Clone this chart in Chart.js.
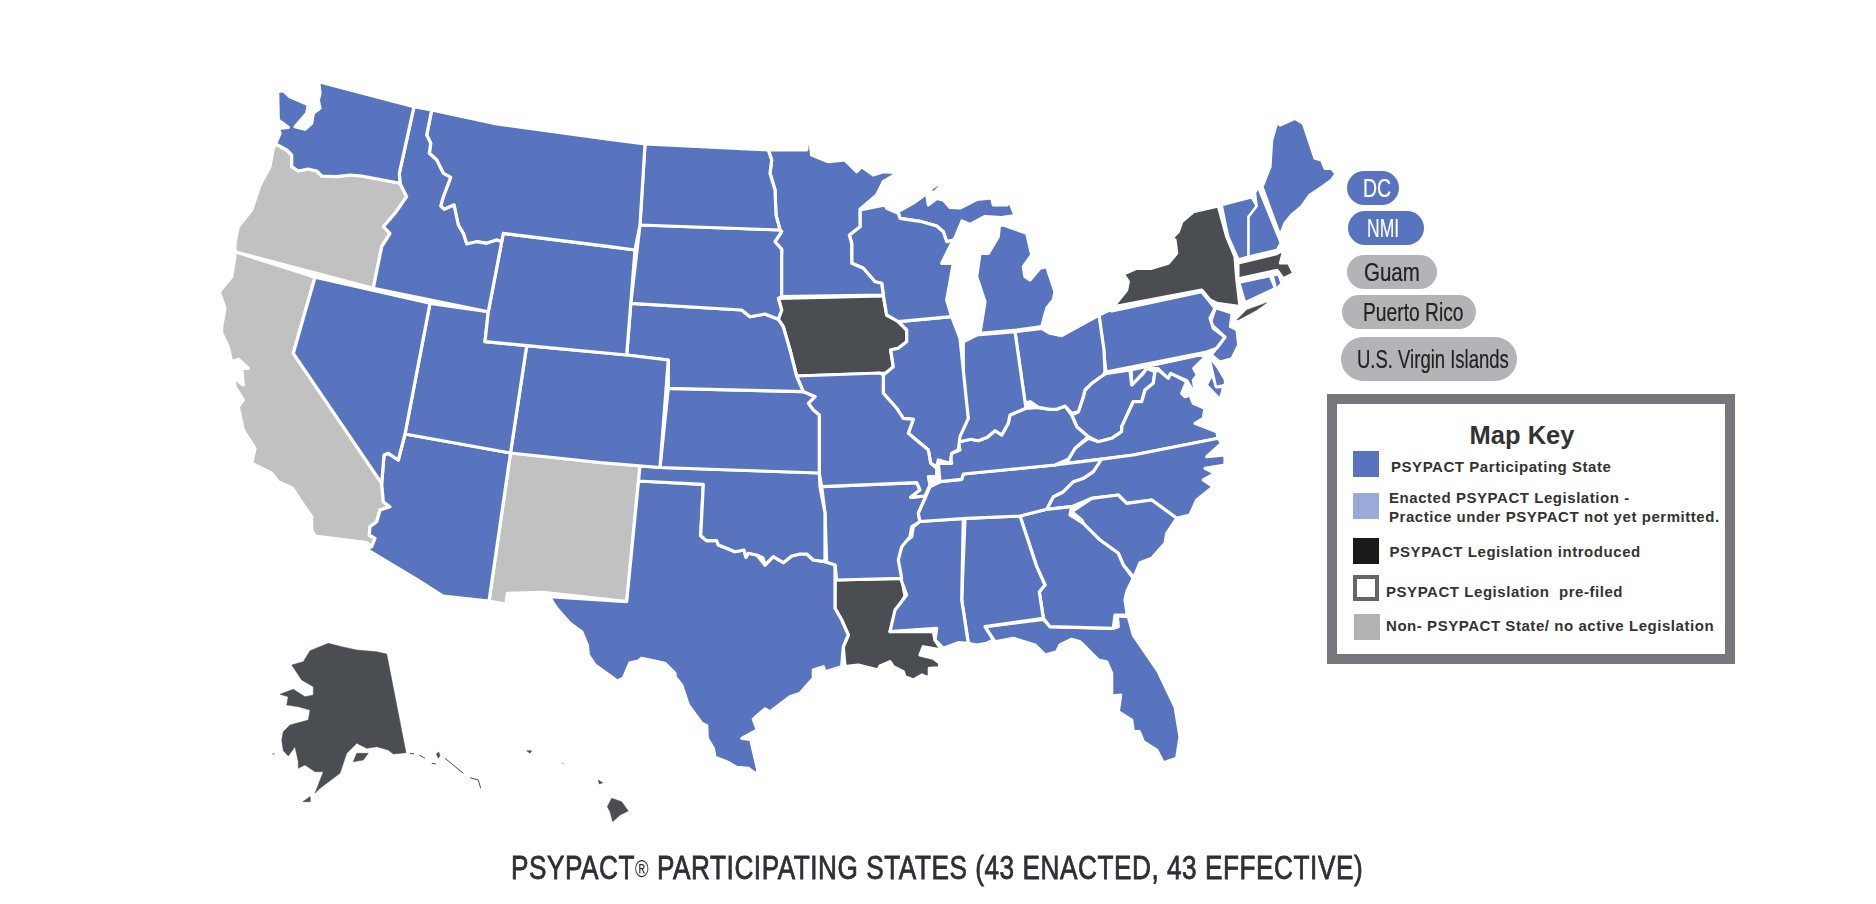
<!DOCTYPE html>
<html>
<head>
<meta charset="utf-8">
<title>PSYPACT Participating States</title>
<script src="https://cdn.jsdelivr.net/npm/chart.js@4/dist/chart.umd.min.js"></script>
<style>
  html, body { margin: 0; padding: 0; background: #fff; overflow: hidden; }
  #wrap { position: relative; width: 1876px; height: 904px; }
  #mapa { position: absolute; left: 0; top: 0; }
  .pill { position: absolute; box-sizing: border-box; font-family: "Liberation Sans", sans-serif; font-size: 25px; white-space: nowrap; }
  .pill span { position: absolute; top: 50%; transform-origin: left center; -webkit-text-stroke: 0.2px currentColor; }
  #key { position: absolute; left: 1327px; top: 394px; width: 408px; height: 270px; box-sizing: border-box; border: 10px solid #76767c; background: #fff; }
  .sw { position: absolute; box-sizing: border-box; width: 26px; height: 26px; }
  .kt { position: absolute; font: bold 15px "Liberation Sans", Arial, sans-serif; color: #333; letter-spacing: 0.55px; white-space: nowrap; transform: translateY(-50%); }
  #keyTitle { position: absolute; text-align: center; top: 421px; font: bold 25.5px "Liberation Sans", Arial, sans-serif; color: #333; }
  #titulo { position: absolute; left: 511px; top: 848px; font-family: "Liberation Sans", sans-serif; font-size: 34px; color: #2d2f36; white-space: nowrap; letter-spacing: 0.7px; transform: scaleX(0.77); transform-origin: left top; -webkit-text-stroke: 0.8px #2d2f36; }
  #titulo sup { font-size: 24px; vertical-align: 2px; line-height: 0; -webkit-text-stroke: 0; }
</style>
</head>
<body>
<div id="wrap">
  <canvas id="mapa" width="1876" height="904"></canvas>
  <div id="titulo">PSYPACT<sup>®</sup> PARTICIPATING STATES (43 ENACTED, 43 EFFECTIVE)</div>
</div>
<script>
// contornos (x, y en la escala del mapa)
const WA = [[318.7,81.7],[414,106.7],[399.3,173.3],[400,183.3],[361.7,176],[350,175],[336.7,176.7],[321.7,176],[316.7,171],[308.3,169],[298.3,171],[291.7,166.7],[291.7,155],[286.7,150],[275.7,144],[280,133.3],[278.3,128.3],[288.3,127.3],[278.3,120],[277.7,91.7],[283.3,90.7],[290,96.7],[305,103.3],[308.3,105],[306.7,113.3],[295,126.7],[305,129.3],[311.7,123.3],[313.3,113.3],[320,108.3],[318.3,100],[320,93.3]];
const OR = [[275.7,144],[286.7,150],[291.7,155],[291.7,166.7],[298.3,171],[308.3,169],[316.7,171],[321.7,176],[336.7,176.7],[350,175],[361.7,176],[400,183.3],[406.7,196.7],[395,213.3],[383.3,226.7],[390,233.3],[381.7,246.7],[373.3,288.3],[235,251.7],[235,243.3],[238.3,226.7],[251.7,210],[260,185],[270,166.7],[273.3,148.3]];
const ID = [[414,106.7],[431.7,110],[426.7,135],[430.7,143.3],[429.3,153.3],[436.7,160],[443.3,173.3],[450.7,177.3],[443.3,196.7],[440.7,206],[444.3,209.3],[454,205],[458.3,225],[463.3,233.3],[466.7,244],[476.7,241.7],[486.7,243.3],[496.7,240],[501.7,241.7],[488.3,311.7],[373.3,288.3],[381.7,246.7],[390,233.3],[383.3,226.7],[395,213.3],[406.7,196.7],[400,183.3],[399.3,173.3]];
const MT = [[431.7,110],[493.3,123.3],[610,139.3],[645,144],[640,225],[635,250],[610,246.7],[503.3,233.3],[501.7,241.7],[496.7,240],[486.7,243.3],[476.7,241.7],[466.7,244],[463.3,233.3],[458.3,225],[454,205],[444.3,209.3],[440.7,206],[443.3,196.7],[450.7,177.3],[443.3,173.3],[436.7,160],[429.3,153.3],[430.7,143.3],[426.7,135]];
const WY = [[503.3,233.3],[635,250],[626.7,355],[485,341.7],[488.3,311.7]];
const NV = [[315,277.3],[430,303.3],[405,434],[398.3,460],[388.3,453.3],[384,455],[381.7,483.3],[293.3,353.3]];
const CA = [[235,251.7],[315,277.3],[293.3,353.3],[381.7,483.3],[383.3,501.7],[390,506.7],[380,510],[376.7,521.7],[370,526.7],[369.3,535],[375,538.3],[371.7,546.7],[366.7,542.7],[315,536],[311.7,530],[311.7,516.7],[300,500],[292.7,488.3],[278.3,481.7],[271.7,473.3],[251.7,463.3],[255,448.3],[243.3,430],[238.3,406.7],[243.3,400],[235,386.7],[234,378],[243.3,385],[241.7,368.3],[248.3,368.3],[238.3,359.3],[231.7,361.7],[228.3,346.7],[221.7,333.3],[221.7,326.7],[225,308.3],[219.3,291.7],[231.7,276.7],[235,256.7]];
const UT = [[430,303.3],[488.3,311.7],[485,341.7],[526.7,345.6],[510.5,453],[405,434]];
const CO = [[526.7,345.6],[626.7,355],[668.3,360],[660,467.5],[600,462.5],[510.5,453]];
const NM = [[510.5,453],[600,462.5],[640,466],[626.7,601.7],[543.3,592.3],[507.3,593.3],[506,604],[489,601]];
const AZ = [[405,434],[510.5,453],[489,601],[443,596],[416.7,579.3],[366.7,549.3],[371.7,546.7],[375,538.3],[369.3,535],[370,526.7],[376.7,521.7],[380,510],[390,506.7],[383.3,501.7],[381.7,483.3],[384,455],[388.3,453.3],[398.3,460]];
const ND = [[645,144],[768.3,150],[771.7,160],[770,173.3],[775,190],[776,215],[780,230],[640,225]];
const SD = [[640,225],[780,230],[781.7,231.7],[775,241.7],[781.7,249.3],[781.7,296.7],[778.3,298.3],[781.7,310],[778.3,319.3],[765,314],[750,316.7],[741.7,310],[630.8,303.3]];
const NE = [[630.8,303.3],[741.7,310],[750,316.7],[765,314],[778.3,319.3],[783.3,326.7],[790,350],[796.7,376.7],[803.3,391.7],[668.3,388.3],[668.3,360],[626.7,355]];
const KS = [[668.3,388.3],[803.3,391.7],[815,396.7],[808.3,403.3],[813.3,410],[819.3,415],[819.3,473],[660,467.5]];
const OK = [[640,466],[660,467.5],[819.3,473],[820,486.7],[825,513.3],[825,561.7],[813.3,560],[806.7,554],[800,554],[791.7,556],[783.3,562.7],[773.3,556.7],[765,565],[763,558],[756.7,555],[748.3,553.3],[746,557.3],[744,550],[735,551.7],[726.7,548.3],[718.3,545],[716.7,540.7],[706.7,540.7],[700.7,535.7],[703.3,484.3],[638.5,481]];
const TX = [[638.5,481],[703.3,484.3],[700.7,535.7],[706.7,540.7],[716.7,540.7],[718.3,545],[726.7,548.3],[735,551.7],[744,550],[746,557.3],[748.3,553.3],[756.7,555],[765,565],[773.3,556.7],[783.3,562.7],[791.7,556],[800,554],[806.7,554],[813.3,560],[825,561.7],[835,565],[835,608.3],[841.7,620],[848.3,635],[843.3,646.7],[841.7,666.7],[825,671.7],[823.3,666.7],[813.3,670],[813.3,678.3],[800,693.3],[790,696.7],[770,711.7],[765,709],[756.7,716],[753.3,719.3],[757.3,730],[741.7,738.3],[750.7,739.3],[758.3,772.3],[755,773.3],[748.3,768.3],[736.7,767.3],[726.7,761.7],[715,757.3],[713.3,748.3],[707.3,738.3],[706.7,725.7],[701.7,723.3],[688.3,705],[681.7,685],[675,676.7],[675,673.3],[665,663.3],[641.7,658.3],[638.3,661],[630,662.7],[623.3,678.3],[617.3,681],[606.7,673.3],[595,665],[588.3,655],[587.3,645],[581.7,631.7],[570,623.3],[556.7,608.3],[549.3,596.7],[626.7,601.7]];
const MN = [[768.3,150],[806.7,150],[807.3,141.7],[810,141.7],[811.7,155],[828.3,161.7],[845,160],[856.7,171.7],[861.7,166.7],[873.3,175],[883.3,171.7],[898.3,172.7],[883.3,181.7],[876.7,195],[860,209.3],[860,226.7],[849.3,235],[851.7,243.3],[851.7,263.3],[863.3,268.3],[875,281.7],[881.7,283.3],[883.3,295],[780,296.7],[781.7,249.3],[775,241.7],[781.7,231.7],[780,230],[776,215],[775,190],[770,173.3],[771.7,160]];
const IA = [[778.3,298.3],[883.3,296],[886.7,315],[896.7,320],[906.7,330],[906.7,341.7],[898.3,348.3],[890.7,350],[893.3,366.7],[886.7,373.3],[880,373.3],[796.7,376],[790,350],[783.3,326.7],[778.3,319.3],[781.7,310]];
const MO = [[796.7,376],[880,373],[883.3,375],[883.3,393.3],[896.7,408.3],[903.3,418.3],[913.3,419.3],[908.3,433.3],[928.3,450],[930.7,463.3],[936.7,468.3],[936.7,476.7],[928.3,476.7],[930,485],[925,496],[910.7,497.3],[920,490],[916.7,482.7],[821.7,486.7],[819.3,473],[819.3,415],[813.3,410],[808.3,403.3],[815,396.7],[803.3,391.7]];
const WI = [[860,210],[885,205],[886.7,208.3],[898.3,213.3],[900,218.3],[921.7,221.7],[936.7,226],[943.3,231.7],[946.7,241.7],[953.3,240],[941.7,263.3],[953.3,263.3],[946.7,300],[951.7,316.7],[898.3,321.7],[886.7,315],[883.3,295],[881.7,283.3],[875,281.7],[863.3,268.3],[851.7,263.3],[851.7,243.3],[849.3,235],[860,226.7]];
const MI_NORTE = [[898,211.5],[915,202],[926.7,193.5],[928.3,205],[936.7,198.5],[943.3,200],[950,207.5],[960,208],[976.7,199.5],[991.7,198],[993.3,205],[1006.7,205],[1010,202.5],[1015,215.5],[1001.7,217.5],[985,216.5],[970,224.5],[962,221],[954,240],[946.7,241.7],[943.3,231.7],[936.7,226],[921.7,221.7],[900,218.3]];
const ISLA_ROYALE = [[932,190],[938,186],[934,190.5]];
const MI_SUR = [[999.3,226],[1003.3,225],[1026.7,233.3],[1031.7,255],[1023.3,266.7],[1025,276.7],[1030,280],[1040,268.3],[1046.7,266.7],[1055,291.7],[1053.3,300],[1046.7,308.3],[1041.7,326.7],[1016.7,330],[980,333.3],[985,301.7],[976.7,276.7],[980,253.3],[988.3,253.3],[998.3,236.7]];
const IL = [[898.3,321.7],[951.7,316.7],[960,338.3],[963.3,370],[966.7,403.3],[968.3,418.3],[960,436.7],[958.3,450],[951.7,453.3],[950,463.3],[938.3,460],[936.7,466.7],[930.7,463.3],[928.3,450],[908.3,433.3],[913.3,419.3],[903.3,418.3],[896.7,408.3],[883.3,393.3],[883.3,375],[893.3,366.7],[890.7,350],[898.3,348.3],[906.7,341.7],[906.7,330],[896.7,320]];
const IN = [[963.3,341.7],[976.7,335],[1015,331.7],[1025,401.7],[1026,408.3],[1010,415],[1008.3,423.3],[1001.7,435],[995,430.7],[987.3,437.3],[978.3,440.7],[970.7,439.3],[960,441.7],[958.3,436.7],[968.3,418.3],[963.3,406.7]];
const OH = [[1015,331.7],[1041.7,328.3],[1050,333.3],[1061.7,335.7],[1099,315],[1104,350],[1105,372],[1103.3,375],[1091.7,383.3],[1085,390],[1083.3,396.7],[1078.3,411.7],[1071.7,413.3],[1065,406],[1056.7,409.3],[1050,409.3],[1038.3,407.3],[1030,401.7],[1025,403.3]];
const KY = [[1026,408.3],[1038.3,407.3],[1050,409.3],[1056.7,409.3],[1065,406],[1071.7,415],[1076.7,426.7],[1088.3,436.7],[1075,448.3],[1068.3,459.3],[1055,465],[963.3,474],[961.7,479.3],[940,481.7],[938.3,463.3],[951.7,463.3],[950,454],[960,450],[958.3,441.7],[970.7,439.3],[978.3,440.7],[987.3,437.3],[995,430.7],[1001.7,435],[1008.3,423.3],[1010,415]];
const TN = [[940,481.7],[961.7,479.3],[963.3,474],[1055,465],[1100,459.3],[1100,461.7],[1093.3,471.7],[1083.3,478.3],[1073.3,481.7],[1063.3,491.7],[1053.3,496.7],[1046.7,509.3],[1020,516],[966.7,518.3],[920,521.5],[918.3,513.3],[925,498.3],[930,486.7]];
const AR = [[821.7,486.7],[916.7,482.7],[920,490],[910.7,497.3],[925,496],[925,498.3],[918.3,513.3],[920,521.5],[911.7,526.7],[910,536.7],[901.7,546.7],[898.3,560],[901.7,578.3],[836.7,580],[835,565],[826.7,562.7],[825,513.3]];
const LA = [[835,580],[901.7,578.3],[905,596],[896.7,610],[890,631.7],[933.3,631.7],[935,640],[941.7,650],[923.3,646.7],[920,655],[933.3,658.3],[940,663.3],[938.3,670],[952.7,678.3],[946.7,678.3],[936,668],[929.3,668.3],[929.3,678.3],[921.7,675],[913.3,680],[905,676.7],[903.3,671.7],[893.3,666.7],[890,661.7],[880,666],[878.3,670],[858.3,665],[845,666.7],[843.3,646.7],[848.3,635],[841.7,620],[835,608.3]];
const MS = [[920,521.5],[963.3,518.3],[961.7,600],[968.3,643.3],[958.3,642.7],[943.3,648.3],[935,640],[936.7,628.3],[890,631.7],[895,610],[906.7,595],[900,576.7],[896.7,560],[903.3,543.3],[911.7,536.7],[913.3,526.7]];
const AL = [[965,518.3],[1020,516],[1036.7,566.7],[1045,585],[1039.3,591.7],[1043.3,618.3],[985,626.7],[993.3,640],[986.7,643.3],[976.7,645],[968.3,643.3],[961.7,600]];
const GA = [[1020,516],[1046.7,509.3],[1071.7,506.7],[1070,515],[1083.3,523.3],[1100,540],[1118.3,553.3],[1123.3,565],[1133.3,578.3],[1126.7,591.7],[1125,600],[1127.3,615],[1115,615],[1113.3,628.3],[1050,626.7],[1043.3,618.3],[1039.3,591.7],[1045,585],[1036.7,566.7]];
const FL = [[985,626.7],[1043.3,619.3],[1050,626.7],[1113.3,628.3],[1118.3,626.7],[1117.3,616],[1128.3,616.7],[1133.3,635],[1158.3,671.7],[1175,706.7],[1180,736.7],[1176.7,758.3],[1163.3,762.7],[1156.7,750],[1143.3,741.7],[1139.3,731.7],[1133.3,731.7],[1131.7,720],[1118.3,711.7],[1120.7,695],[1111.7,696],[1111.7,673.3],[1106.7,661.7],[1098.3,660],[1080,641.7],[1071.7,639.3],[1060,645],[1056.7,651.7],[1045,655],[1035,645],[1013.3,638.3],[995,641.7],[988.3,631.7]];
const SC = [[1071.7,511.7],[1091.7,498.3],[1118.3,495],[1126.7,503.3],[1151.7,500],[1176.7,518.3],[1166.7,533.3],[1165,543.3],[1151.7,558.3],[1140,562.7],[1134,577.3],[1123.3,565],[1118.3,553.3],[1100,540],[1086.7,530],[1081.7,520]];
const NC = [[1100,459.3],[1133.3,455],[1218.3,438.3],[1221.7,443.3],[1206.7,456.7],[1225,455],[1225,465],[1205,468.3],[1215,473.3],[1203.3,480],[1213.3,486.7],[1196.7,500],[1190,515],[1176.7,518.3],[1151.7,500],[1126.7,503.3],[1118.3,495],[1091.7,498.3],[1071.7,506.7],[1046.7,509.3],[1053.3,496.7],[1063.3,491.7],[1073.3,481.7],[1083.3,478.3],[1093.3,471.7]];
const VA = [[1066,463.4],[1075,448.3],[1088.3,438.3],[1098.3,441.7],[1111.7,438.3],[1121.7,431.7],[1121.7,426.7],[1133.3,401.7],[1141.7,401.7],[1145,390],[1153.3,383.3],[1155,371.7],[1158.3,370],[1168.3,378.3],[1170.7,373.3],[1186.7,381.7],[1181.7,393.3],[1185,396.7],[1190,395],[1193.3,403.3],[1205,408.3],[1203.3,418.3],[1195,423.3],[1216.7,431.7],[1218.3,438.3],[1133.3,455],[1100,459.3]];
const WV = [[1106.7,373.3],[1130,370],[1131.7,385],[1143.3,373.3],[1146.7,368.3],[1155,371.7],[1153.3,383.3],[1145,390],[1141.7,401.7],[1133.3,401.7],[1121.7,426.7],[1121.7,431.7],[1111.7,438.3],[1098.3,441.7],[1088.3,436.7],[1076.7,426.7],[1071.7,415],[1078.3,411.7],[1083.3,396.7],[1085,390],[1091.7,383.3],[1103.3,375]];
const PA = [[1099,315],[1111.7,309],[1111.7,311],[1201.7,291.7],[1210,301.7],[1215,308.3],[1210,318.3],[1213.3,328.3],[1225,337.3],[1216.7,348.3],[1206.7,352],[1106,372]];
const NY = [[1113.3,306.7],[1126.7,290],[1128.3,281.7],[1123.3,274],[1136.7,268.3],[1151.7,268.3],[1168.3,263.3],[1176.7,253.3],[1175,240],[1171.7,238.3],[1178.3,231.7],[1181.7,221.7],[1193.3,211.7],[1218.3,206],[1226.7,236.7],[1235,256.7],[1236.7,278.3],[1240,306.7],[1216.7,303.3],[1210,300],[1201.7,290]];
const LONG_ISLAND = [[1236.7,320],[1246.7,310],[1266.7,302.7],[1256.7,310],[1239,319.5]];
const VT = [[1221.7,205],[1251.7,197.3],[1256.7,206],[1248.3,216.7],[1248.3,256.7],[1238.3,259.3],[1228.3,236.7],[1225,221.7]];
const NH = [[1258,187],[1278.3,236.7],[1280.7,243.3],[1276.7,250],[1248.3,256.7],[1248.3,216.7],[1256.7,206],[1255,193]];
const ME = [[1262,187],[1270,166.7],[1271.7,140],[1277.3,120.7],[1280,125],[1295,118.3],[1303.3,123.3],[1315,158.3],[1321.7,160],[1325,168.3],[1331.7,168.3],[1336,174],[1331.7,180],[1321.7,187.3],[1310,195],[1301.7,206.7],[1291.7,215],[1285,223.3],[1280,236]];
const MA = [[1238.3,263.3],[1276.7,254],[1283.3,250.7],[1280,263.3],[1288.3,263.3],[1293.3,273.3],[1283.3,278.3],[1277.3,270],[1238.3,278.3]];
const CT = [[1239.3,282.7],[1270,276],[1275,288.3],[1245,302.3]];
const RI = [[1272.7,275.7],[1278.3,274.3],[1281.7,283.3],[1276,289]];
const NJ = [[1216.7,308.3],[1231.7,313.3],[1230,326.7],[1236.7,330],[1238.3,345],[1231.7,358.3],[1220,361.7],[1211.7,355],[1225,336.7],[1210.7,323.3],[1215,310]];
const DE = [[1209,356],[1218,368],[1225,380],[1225,385],[1216,387]];
const MD_OESTE = [[1131.7,370],[1203.3,354.5],[1203.3,358.3],[1193.3,368.3],[1197,375],[1193,380],[1195,393.3],[1186.7,380],[1170.7,373.3],[1168.3,378.3],[1158.3,368.3],[1146.7,368.3],[1131.7,385]];
const MD_ESTE = [[1206,356],[1216,387],[1223.3,387.3],[1220,399],[1206.7,385],[1212,375]];
const AK = [[386.7,654],[406,752.7],[393.3,754],[388.3,750],[376.7,746.7],[366.7,748.3],[356.7,743.3],[346.7,753.3],[340,773.3],[320,788.3],[315,793.3],[323.3,771.7],[315,771.7],[305,765],[298.3,768.3],[298.3,761.7],[295,746.7],[288.3,756],[283.3,750.7],[281.7,740],[283.3,731.7],[290,725],[308.3,720],[310,710],[298.3,706.7],[286.7,705],[288.3,696.7],[280,694.3],[293.3,689.3],[305,696.7],[313.3,695],[313.3,686.7],[301.7,680],[291.7,665],[303.3,661.7],[310,650.7],[328.3,643.3],[341.7,646.7],[356.7,650],[376.7,651.7]];
const KODIAK = [[353.3,761.7],[356.7,753.3],[368.3,753.3],[363.3,760]];
const AK_ISLA2 = [[302.7,801.7],[310,796.7],[310,801.7]];
const AK_ISLA3 = [[436.3,754],[438.7,752],[440,755.3],[438.3,758.3]];
const HAWAII = [[607.3,806.7],[611.7,798.3],[621.7,801.7],[628.3,811],[620,815],[612.7,821.7],[610,811.7]];
const MAUI = [[598.3,780],[602.7,782.7],[599.3,784]];
const OAHU = [[526.7,750.7],[531.7,750.7],[530,753.3]];
const ISLOTES = [
  [[445,758.3],[463.3,773.3]],
  [[470,777.7],[478.3,780],[480.7,788.3]],
  [[419.3,755],[425,758.3]],
  [[410,753.3],[414,754]],
  [[431.7,763.3],[436,764]],
  [[272.5,754],[274.5,754]],
  [[562.3,763],[563.3,763.6]]
];

const participantes = [WA,ID,MT,WY,NV,UT,CO,AZ,ND,SD,NE,KS,OK,TX,MN,MO,WI,MI_NORTE,MI_SUR,IL,IN,OH,KY,TN,AR,MS,AL,GA,FL,SC,NC,VA,WV,PA,VT,NH,ME,CT,RI,NJ,DE,MD_OESTE,MD_ESTE];
const introducidos = [IA,LA,NY,MA];
const sinBorde = [LONG_ISLAND,AK,KODIAK,AK_ISLA2,AK_ISLA3,HAWAII,MAUI,OAHU];
const sinActividad = [OR,CA,NM];
const pequenos = [VT,NH,CT,RI,MA,NJ,DE,MD_OESTE,MD_ESTE];

const COLOR_AZUL = "#5874bf";
const COLOR_OSCURO = "#4a4e52";
const COLOR_GRIS = "#c1c1c1";

function estado(puntos, color, borde, ancho) {
  const data = puntos.concat([puntos[0]]).map(p => ({ x: p[0], y: p[1] }));
  return {
    data: data,
    showLine: true,
    fill: "shape",
    backgroundColor: color,
    borderColor: borde,
    borderWidth: ancho,
    borderJoinStyle: "round",
    pointRadius: 0,
    tension: 0
  };
}

function anchoDe(p) {
  return pequenos.includes(p) ? 2.4 : 3.2;
}

const datasets = [];
participantes.forEach(p => datasets.push(estado(p, COLOR_AZUL, "#fff", anchoDe(p))));
sinActividad.forEach(p => datasets.push(estado(p, COLOR_GRIS, "#fff", anchoDe(p))));
introducidos.forEach(p => datasets.push(estado(p, COLOR_OSCURO, "#fff", anchoDe(p))));
sinBorde.forEach(p => datasets.push(estado(p, COLOR_OSCURO, COLOR_OSCURO, 0.5)));
datasets.push(estado(ISLA_ROYALE, COLOR_AZUL, COLOR_AZUL, 0.5));
ISLOTES.forEach(l => datasets.push({
  data: l.map(p => ({ x: p[0], y: p[1] })),
  showLine: true,
  borderColor: COLOR_OSCURO,
  borderWidth: 1,
  pointRadius: 0
}));

new Chart(document.getElementById("mapa"), {
  type: "scatter",
  data: { datasets: datasets },
  options: {
    responsive: false,
    animation: false,
    events: [],
    layout: { padding: 0 },
    plugins: { legend: { display: false }, tooltip: { enabled: false } },
    scales: {
      x: { type: "linear", min: 0, max: 1876, display: false },
      y: { type: "linear", min: 0, max: 904, reverse: true, display: false }
    }
  }
});

// pastillas de territorios
const territorios = ["DC", "NMI", "Guam", "Puerto Rico", "U.S. Virgin Islands"];
const territorioActivo = [true, true, false, false, false];
const pastillas = [[1347,171,52,34,17,16,0.78],[1348,211,76,34,17,19,0.7],[1347,255,90,34,17,17,0.82],[1342,295,134,34,17,21,0.77],[1341,337,176,44,22,16,0.74]];
const wrap = document.getElementById("wrap");
territorios.forEach((t, i) => {
  const [x, y, w, h, r, tx, esc] = pastillas[i];
  const el = document.createElement("div");
  el.className = "pill";
  el.style.cssText = `left:${x}px;top:${y}px;width:${w}px;height:${h}px;border-radius:${r}px;background:${territorioActivo[i] ? COLOR_AZUL : "#b4b4b8"};color:${territorioActivo[i] ? "#fff" : "#222"}`;
  el.innerHTML = `<span style="left:${tx}px;transform:translateY(-50%) scaleX(${esc})">${t}</span>`;
  wrap.appendChild(el);
});

// clave del mapa
const claveTextos = [
  ["PSYPACT Participating State", 1391, 466],
  ["Enacted PSYPACT Legislation -", 1389, 496.5],
  ["Practice under PSYPACT not yet permitted.", 1389, 516],
  ["PSYPACT Legislation introduced", 1389.5, 550.5],
  ["PSYPACT Legislation\u00a0 pre-filed", 1386, 591],
  ["Non- PSYPACT State/ no active Legislation", 1386, 625]
];
const claveCuadros = [
  [1353, 451, "#5874bf", ""],
  [1353, 493, "#9aaad8", ""],
  [1353, 538, "#1b1a1b", ""],
  [1353, 575, "#fff", "4px solid #666"],
  [1354, 614, "#b3b3b3", ""]
];
const key = document.createElement("div");
key.id = "key";
wrap.appendChild(key);
const kt = document.createElement("div");
kt.id = "keyTitle";
kt.style.left = "1327px";
kt.style.width = "390px";
kt.textContent = "Map Key";
wrap.appendChild(kt);
claveCuadros.forEach(c => {
  const s = document.createElement("div");
  s.className = "sw";
  s.style.cssText = `left:${c[0]}px;top:${c[1]}px;background:${c[2]};${c[3] ? "border:" + c[3] : ""}`;
  wrap.appendChild(s);
});
claveTextos.forEach(c => {
  const t = document.createElement("div");
  t.className = "kt";
  t.style.left = c[1] + "px";
  t.style.top = c[2] + "px";
  t.textContent = c[0];
  wrap.appendChild(t);
});
</script>
</body>
</html>
